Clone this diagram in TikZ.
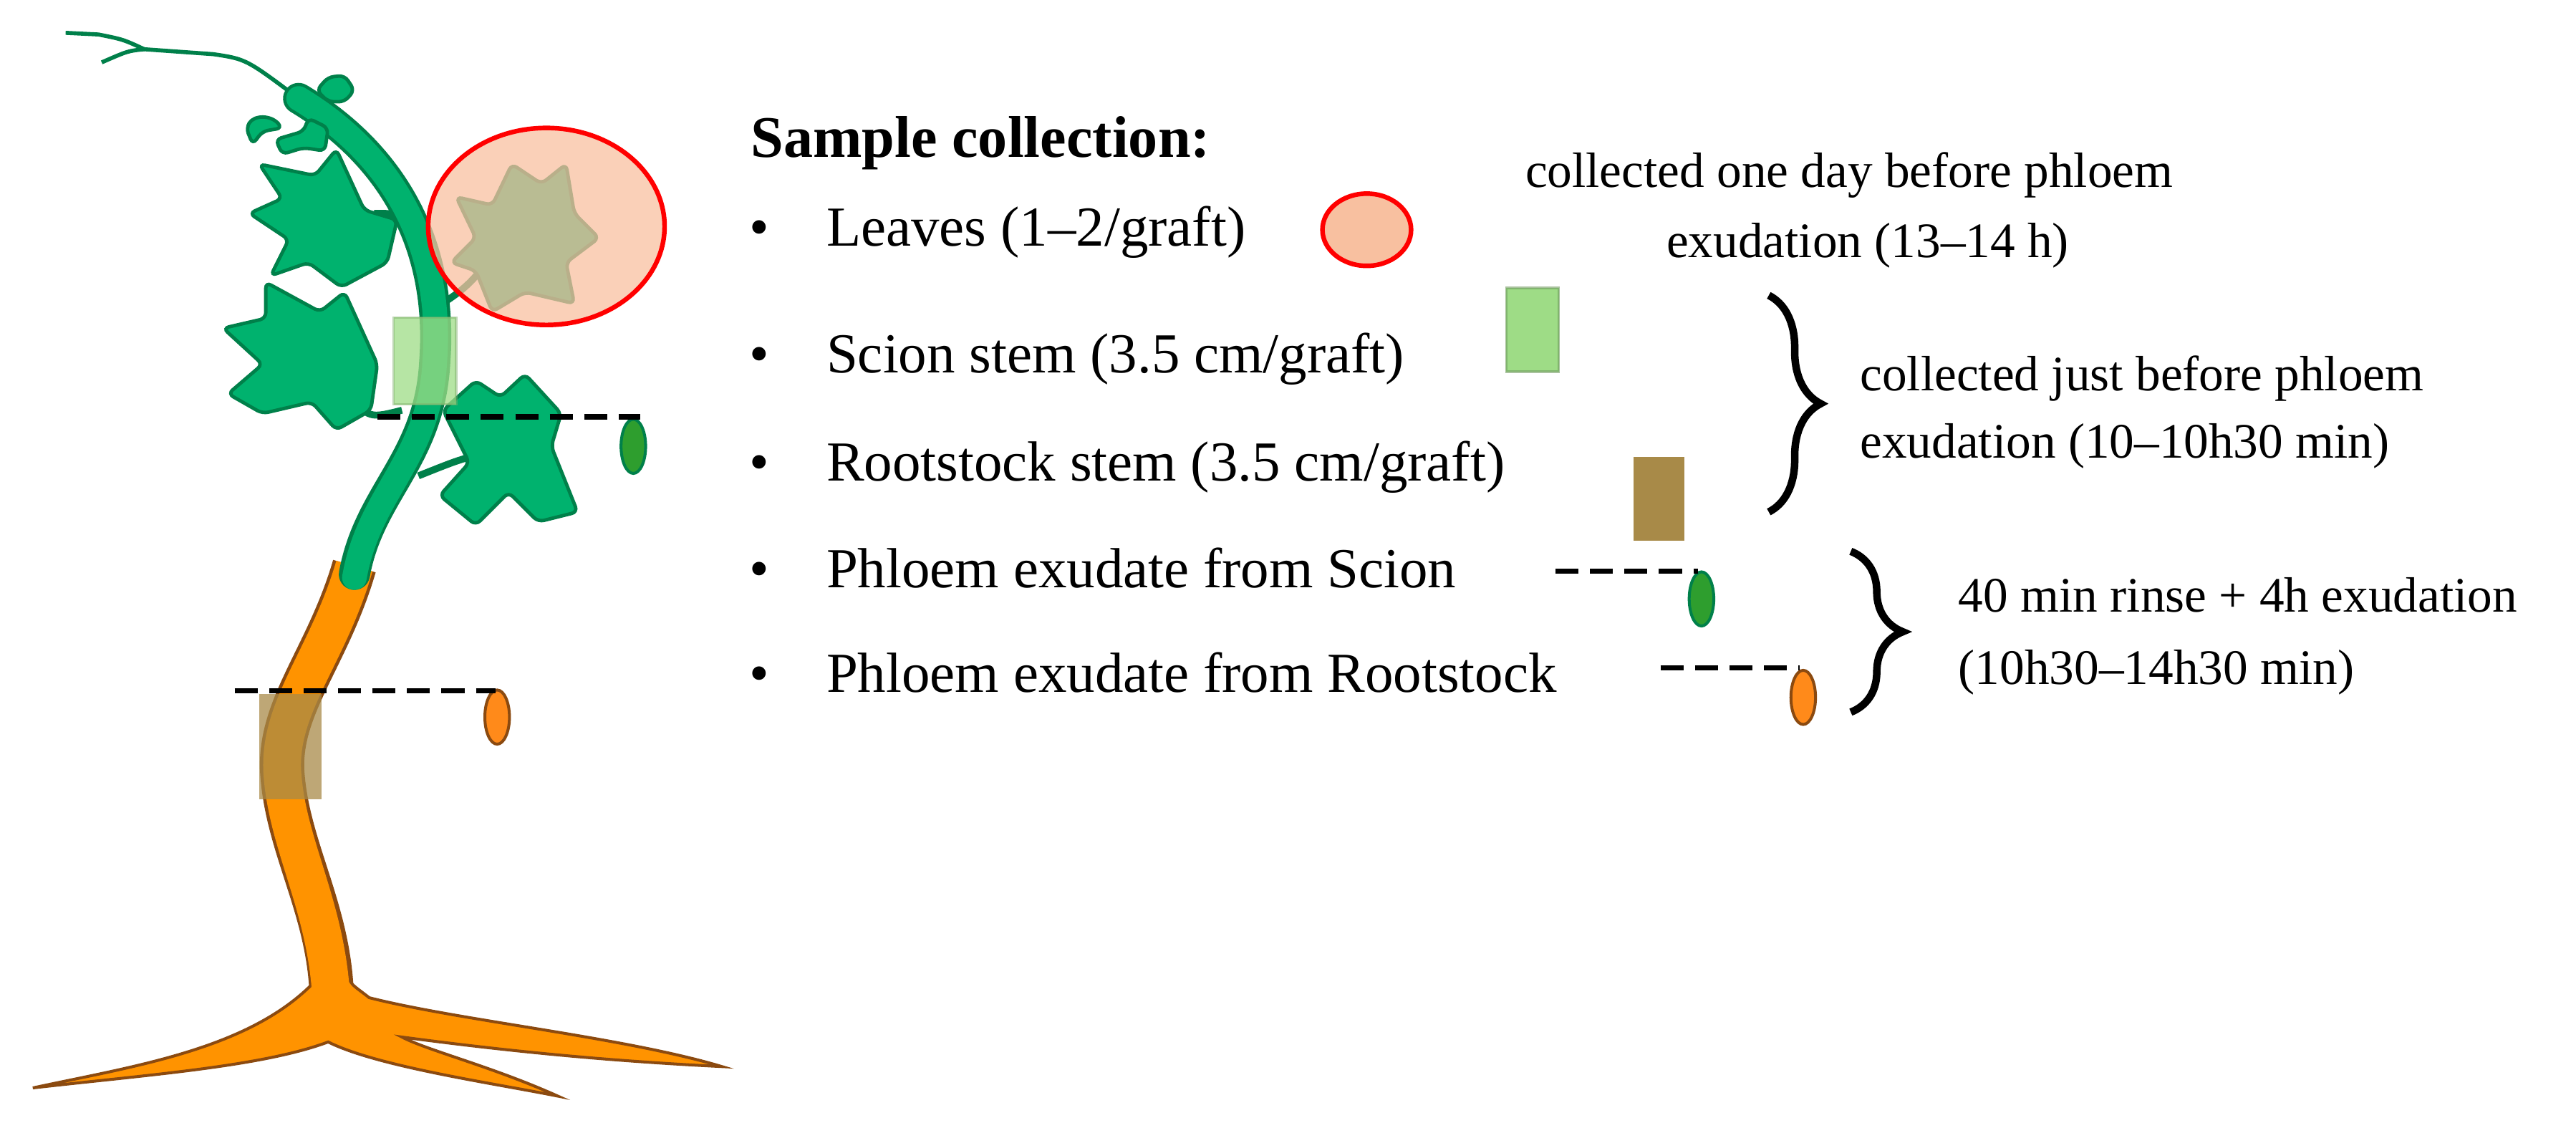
\documentclass[tikz,border=0pt]{standalone}
\usepackage{fontspec}
\setmainfont{Liberation Serif}
\usetikzlibrary{decorations.pathreplacing,shapes.geometric}
\definecolor{lg}{HTML}{00B26E}
\definecolor{dg}{HTML}{00804A}
\definecolor{orng}{HTML}{FF9300}
\definecolor{brn}{HTML}{8B4A10}
\definecolor{pinkf}{HTML}{F8C0A0}
\definecolor{lgreen}{HTML}{9EDC86}
\definecolor{brbox}{HTML}{A88A48}
\definecolor{ovg}{HTML}{2E9E2E}
\definecolor{ovo}{HTML}{FF8A1A}
\begin{document}
\begin{tikzpicture}[x=0.01cm,y=-0.01cm,
  leaf/.style={fill=lg,draw=dg,line width=0.6pt,rounded corners=1pt},
  main/.style={anchor=base west,font=\fontsize{9.8}{12}\selectfont,inner sep=0},
  side/.style={anchor=base west,font=\fontsize{8.6}{11}\selectfont,inner sep=0},
  bul/.style={anchor=base,font=\fontsize{9.8}{12}\selectfont,inner sep=0},
  cut/.style={line width=0.9pt,dash pattern=on 0.14cm off 0.07cm},
  ovalg/.style={ellipse,fill=ovg,draw=dg,line width=0.5pt,minimum width=0.15cm,minimum height=0.33cm,inner sep=0},
  ovalo/.style={ellipse,fill=ovo,draw=brn,line width=0.5pt,minimum width=0.15cm,minimum height=0.33cm,inner sep=0},
  brc/.style={decorate,decoration={brace,amplitude=9pt},line width=1.3pt}]
\useasboundingbox (0,0) rectangle (1570,687);
% tendril
\draw[dg,line width=0.7pt] (40,20) -- (60,21) .. controls (75,24) .. (88,30) -- (130,33) .. controls (150,36) .. (182,60);
\draw[dg,line width=0.7pt] (88,30) .. controls (78,31) .. (62,38);
% orange stem
\draw[brn,line width=0.27cm] (216,345) .. controls (200,400) and (170,430) .. (172,470) .. controls (175,520) and (205,560) .. (202,620);
% roots
\fill[orng,draw=brn,line width=0.5pt] (190,600) .. controls (150,640) and (80,650) .. (20,663) .. controls (90,655) and (160,650) .. (200,635) .. controls (230,650) and (300,660) .. (340,668) .. controls (300,650) and (260,640) .. (245,632) .. controls (320,642) and (380,647) .. (440,650) .. controls (380,632) and (280,622) .. (225,608) .. controls (215,600) and (212,600) .. (212,590) -- cycle;
\draw[orng,line width=0.23cm] (216,345) .. controls (200,400) and (170,430) .. (172,470) .. controls (175,520) and (205,560) .. (202,630);
% stalks
\draw[dg,line width=1.2pt] (255,290) .. controls (280,280) .. (300,275);
\draw[dg,line width=1.2pt] (250,135) .. controls (240,130) .. (228,130);
\draw[dg,line width=1.2pt] (245,250) .. controls (225,255) .. (212,240);
\draw[dg,line width=1.2pt] (262,190) .. controls (285,175) .. (305,150);
% green stem
\draw[dg,line width=0.19cm,line cap=round] (182,60) .. controls (240,95) and (270,150) .. (265,220) .. controls (262,280) and (225,300) .. (216,350);
\draw[lg,line width=0.15cm,line cap=round] (182,60) .. controls (240,95) and (270,150) .. (265,220) .. controls (262,280) and (225,300) .. (216,352);
% small top leaves
\draw[leaf] (168,85) -- (185,80) -- (188,72) -- (200,78) -- (198,92) -- (185,90) -- (172,94) -- cycle;
\draw[leaf] (193,55) -- (200,47) -- (210,46) -- (216,55) -- (210,62) -- (200,62) -- cycle;
\draw[leaf] (150,78) .. controls (155,70) and (165,70) .. (172,78) -- (160,80) -- (154,88) -- cycle;
% leaves
\draw[leaf] (158,100) -- (192,107) -- (205,91) -- (222,128) -- (242,134) -- (236,160) -- (208,175) -- (188,160) -- (165,168) -- (176,146) -- (152,130) -- (172,121) -- cycle;
\draw[leaf] (162,172) -- (195,190) -- (210,178) -- (230,222) -- (226,250) -- (205,262) -- (190,245) -- (160,252) -- (139,240) -- (160,222) -- (136,200) -- (162,194) -- cycle;
\draw[leaf] (270,250) -- (290,232) -- (305,242) -- (320,228) -- (342,252) -- (336,272) -- (352,312) -- (328,318) -- (310,300) -- (290,320) -- (268,302) -- (286,282) -- cycle;
\draw[leaf] (278,120) -- (300,125) -- (312,100) -- (330,112) -- (345,100) -- (350,130) -- (365,145) -- (345,160) -- (350,185) -- (320,178) -- (300,190) -- (290,165) -- (275,160) -- (290,145) -- cycle;
% samples on plant
\node[ellipse,draw=red,line width=0.8pt,fill=pinkf,fill opacity=0.75,minimum width=1.44cm,minimum height=1.2cm,inner sep=0] (circ) at (333,138) {};
\node[rectangle,fill=lgreen,fill opacity=0.75,draw=lgreen!80!black,draw opacity=0.5,minimum width=0.38cm,minimum height=0.53cm,inner sep=0] (gbox) at (259,220) {};
\node[rectangle,fill=brbox,fill opacity=0.75,minimum width=0.38cm,minimum height=0.64cm,inner sep=0] (bbox) at (177,455) {};
\coordinate (c1a) at (230,254); \coordinate (c1b) at (390,254); \node[ovalg] (o1) at (386,272) {};
\draw[cut] (c1a) -- (c1b);
\coordinate (c2a) at (143,421); \coordinate (c2b) at (302,421); \node[ovalo] (o2) at (303,437) {};
\draw[cut] (c2a) -- (c2b);
% text
\node[main,font=\fontsize{10.2}{12}\selectfont\bfseries] (title) at (457,96) {Sample collection:};
\foreach \y/\t/\n in {150/{Leaves (1\textendash2/graft)}/t1,227/{Scion stem (3.5 cm/graft)}/t2,293/{Rootstock stem (3.5 cm/graft)}/t3,358/{Phloem exudate from Scion}/t4,422/{Phloem exudate from Rootstock}/t5}{
  \node[bul] at (463,\y) {•};
  \node[main] (\n) at (503,\y) {\t};}
\node[ellipse,draw=red,line width=0.8pt,fill=pinkf,minimum width=0.54cm,minimum height=0.44cm,inner sep=0] (s1) at (833,140) {};
\node[rectangle,fill=lgreen,draw=lgreen!70!black,draw opacity=0.6,minimum width=0.32cm,minimum height=0.51cm,inner sep=0] (s2) at (934,201) {};
\node[rectangle,fill=brbox,minimum width=0.31cm,minimum height=0.51cm,inner sep=0] (s3) at (1011,304) {};
\coordinate (d1) at (948,348); \coordinate (d1b) at (1035,348); \node[ovalg] (s4) at (1037,365) {};
\draw[cut] (d1) -- (d1b);
\coordinate (d2) at (1012,407); \coordinate (d2b) at (1097,407); \node[ovalo] (s5) at (1099,425) {};
\draw[cut] (d2) -- (d2b);
\node[side] (r1) at (929,114) {collected one day before phloem};
\node[side] (r2) at (1015,157) {exudation (13\textendash14 h)};
\coordinate (b1t) at (1078,180); \coordinate (b1b) at (1078,312);
\draw[brc] (b1t) -- (b1b);
\node[side] (r3) at (1133,238) {collected just before phloem};
\node[side] (r4) at (1133,279) {exudation (10\textendash10h30 min)};
\coordinate (b2t) at (1128,336); \coordinate (b2b) at (1128,434);
\draw[brc] (b2t) -- (b2b);
\node[side] (r5) at (1193,373) {40 min rinse + 4h exudation};
\node[side] (r6) at (1193,417) {(10h30\textendash14h30 min)};
\end{tikzpicture}
\end{document}
